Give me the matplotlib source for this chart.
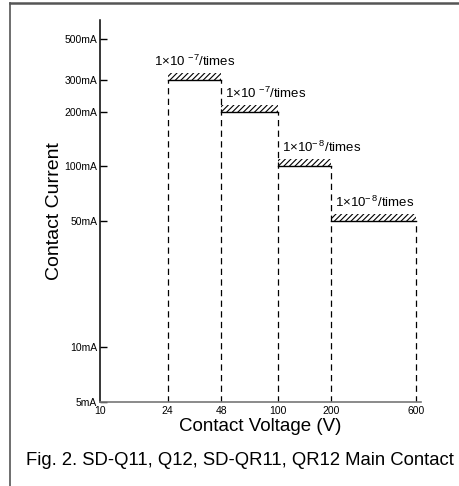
import matplotlib.pyplot as plt
from matplotlib.lines import Line2D

plt.rcParams['font.family'] = ['Liberation Sans', 'DejaVu Sans']
plt.rcParams['mathtext.fontset'] = 'custom'
plt.rcParams['mathtext.rm'] = 'Liberation Sans'
plt.rcParams['mathtext.default'] = 'regular'
plt.rcParams['hatch.linewidth'] = 0.8

# data
volt_edges = [24, 48, 100, 200, 600]
currents = [300, 200, 100, 50]
rates = ["1×10 $^{-7}$/times", "1×10 $^{-7}$/times",
         "1×10$^{-\\,8}$/times", "1×10$^{-\\,8}$/times"]

y_ticks = [5, 10, 50, 100, 200, 300, 500]
y_labels = ["5mA", "10mA", "50mA", "100mA", "200mA", "300mA", "500mA"]
x_ticks = [10, 24, 48, 100, 200, 600]
x_labels = ["10", "24", "48", "100", "200", "600"]

fig = plt.figure(figsize=(4.6, 4.86), dpi=100)
ax = fig.add_axes([0.2174, 0.1728, 0.6978, 0.7860])
ax.set_xscale('log')
ax.set_yscale('log')
ax.set_xlim(10, 640)
ax.set_ylim(5, 640)

dash = (0, (5, 3.5))
for i, cur in enumerate(currents):
    x0, x1 = volt_edges[i], volt_edges[i + 1]
    # hatched strip on top of each level
    ax.fill_between([x0, x1], cur, cur * 1.09, facecolor='white',
                    edgecolor='black', hatch='//////', linewidth=0)
    ax.plot([x0, x1], [cur, cur], color='black', lw=1.0)
    if i == 0:
        ax.annotate(rates[i], xy=((x0 * x1) ** 0.5, cur * 1.09),
                    xytext=(0, 3), textcoords='offset points',
                    ha='center', va='bottom', fontsize=9.5)
    else:
        ax.annotate(rates[i], xy=(x0, cur * 1.09), xytext=(3, 3),
                    textcoords='offset points', ha='left', va='bottom',
                    fontsize=9.5)

# dashed verticals
for j, v in enumerate(volt_edges):
    tops = []
    if j > 0:
        tops.append(currents[j - 1])
    if j < len(currents):
        tops.append(currents[j])
    ax.plot([v, v], [5, max(tops)], color='black', lw=0.9, linestyle=dash)

for s in ['top', 'right']:
    ax.spines[s].set_visible(False)
ax.spines['left'].set_linewidth(1.1)
ax.spines['bottom'].set_color('#777777')
ax.spines['bottom'].set_linewidth(1.2)

ax.set_yticks(y_ticks)
ax.set_yticklabels(y_labels)
ax.yaxis.set_minor_locator(plt.NullLocator())
ax.tick_params(axis='y', direction='in', length=5, width=1, labelsize=7.5,
               pad=2)
ax.set_xticks(x_ticks)
ax.set_xticklabels(x_labels)
ax.xaxis.set_minor_locator(plt.NullLocator())
ax.tick_params(axis='x', length=0, labelsize=7.5, pad=3)

ax.set_xlabel("Contact Voltage (V)", fontsize=13.5, labelpad=1)
ax.set_ylabel("Contact Current", fontsize=14, labelpad=1)

fig.text(0.522, 0.053, "Fig. 2. SD-Q11, Q12, SD-QR11, QR12 Main Contact",
         ha='center', va='center', fontsize=13.3)

# frame lines (top and left)
fig.add_artist(Line2D([10 / 460, 1], [1 - 3.5 / 486, 1 - 3.5 / 486],
                      color='#555555', lw=1.8))
fig.add_artist(Line2D([10 / 460, 10 / 460], [0, 1 - 3.5 / 486],
                      color='#555555', lw=1.2))

fig.savefig("out.png", dpi=100)
